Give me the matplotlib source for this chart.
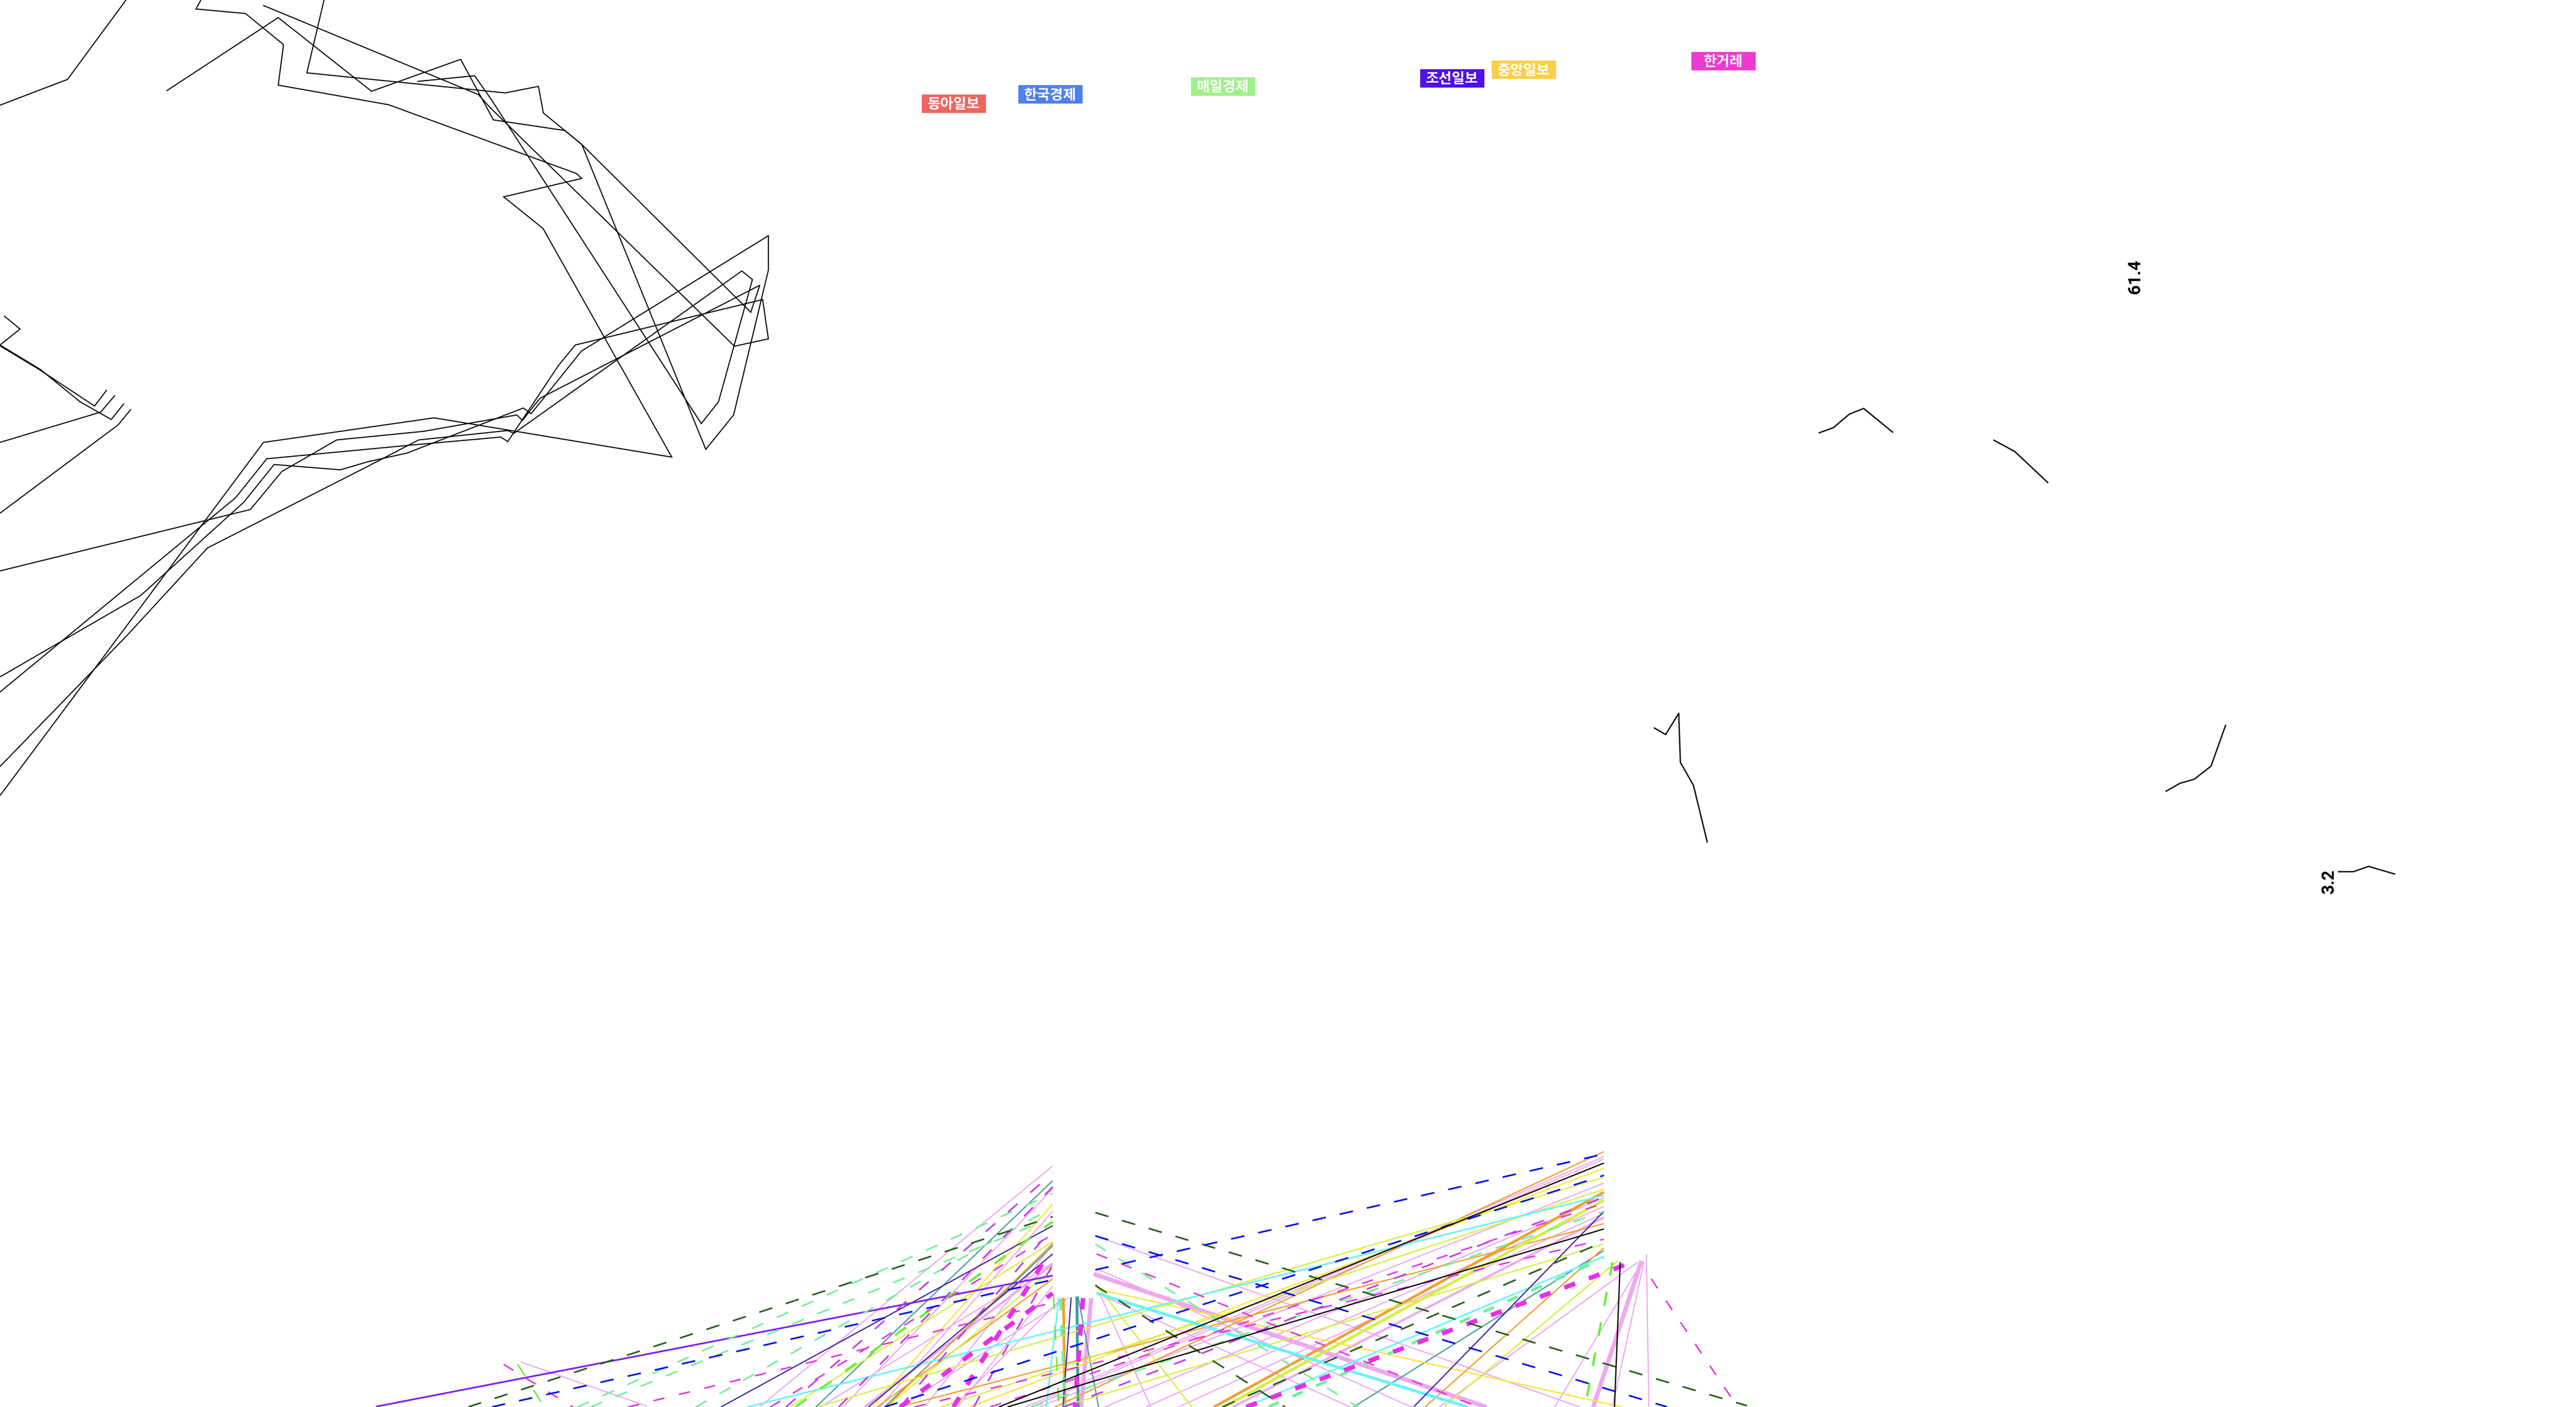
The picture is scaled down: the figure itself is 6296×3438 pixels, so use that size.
import matplotlib
matplotlib.use("Agg")
import matplotlib.pyplot as plt
from matplotlib.patches import Rectangle

plt.rcParams['lines.scale_dashes'] = False
plt.rcParams['lines.solid_capstyle'] = 'butt'
plt.rcParams['lines.dash_capstyle'] = 'butt'

W, H = 6296, 3438

# newspaper labels
papers = ['동아일보', '한국경제', '매일경제', '조선일보', '중앙일보', '한거레']
paper_colors = ['#EF6660', '#4E80EE', '#9EF088', '#5010E8', '#F8D048', '#EE3ACE']
paper_x = [2331, 2567, 2989, 3549, 3724, 4212]
paper_y = [254, 231, 212, 192, 171, 150]

# value labels
value_text = ['61.4', '3.2']
value_x = [5218, 5692]
value_y = [676, 2154]

# black outline paths, upper left
outline_paths = [
    [(308, 0), (165, 194), (0, 257)],
    [(491, 0), (479, 22), (600, 33), (693, 109), (680, 208), (950, 256), (1409, 424),
     (1422, 436), (1231, 481), (1327, 558), (1642, 1117), (1061, 1021), (644, 1081), (0, 1944)],
    [(407, 222), (680, 43), (908, 223), (1126, 145), (1206, 293), (1381, 319), (1422, 353),
     (1835, 763), (1857, 697), (1320, 973), (1277, 1027), (1263, 1014), (1035, 1054),
     (823, 1075), (689, 1152), (612, 1245), (0, 1395)],
    [(792, 0), (750, 178), (1235, 227), (1316, 211), (1328, 276), (1422, 353), (1725, 1098),
     (1793, 1014), (1878, 660), (1878, 576), (1421, 858), (1298, 1011), (1279, 997),
     (995, 1107), (900, 1128), (832, 1148), (670, 1135), (596, 1227), (344, 1455), (0, 1654)],
    [(643, 13), (1169, 231), (1200, 265), (1795, 846), (1878, 828), (1864, 732), (1406, 843),
     (1365, 893), (1241, 1079), (1224, 1068), (1000, 1088), (652, 1121), (576, 1216), (0, 1691)],
    [(1020, 199), (1160, 185), (1200, 242), (1714, 1035), (1756, 982), (1839, 683), (1813, 662),
     (1256, 1059), (1241, 1052), (1023, 1075), (900, 1139), (507, 1339), (313, 1550), (0, 1873)],
    [(10, 772), (49, 804), (0, 843)],
    [(0, 843), (99, 903), (196, 982), (272, 1025), (303, 986)],
    [(0, 845), (96, 903), (231, 992), (261, 953)],
    [(0, 1081), (246, 1007), (281, 966)],
    [(0, 1254), (289, 1038), (320, 1000)],
]

# black fragments, right side
fragment_paths = [
    [(4445, 1058), (4481, 1045), (4520, 1012), (4555, 998), (4627, 1057)],
    [(4872, 1075), (4924, 1103), (5006, 1180)],
    [(4042, 1778), (4071, 1795), (4103, 1743), (4107, 1863), (4139, 1919), (4173, 2059)],
    [(5293, 1934), (5328, 1914), (5363, 1904), (5404, 1872), (5440, 1771)],
    [(5714, 2130), (5752, 2130), (5789, 2117), (5854, 2136)],
]

# coloured segments at the bottom (x0, y0, x1, y1)
pink_thin = [
    (1273, 3328, 1581, 3436), (1856, 3438, 2573, 2849), (2005, 3438, 2573, 3086),
    (2150, 3438, 2573, 2960), (2260, 3438, 2573, 3040), (2340, 3438, 2573, 3142),
    (2330, 3438, 2595, 3172), (2200, 3438, 2610, 3172), (2060, 3438, 2573, 2905),
    (2507, 3438, 3920, 2826), (2520, 3438, 3920, 2832), (2540, 3438, 3920, 2891),
    (2700, 3438, 3920, 2927), (2800, 3438, 3920, 2948), (2880, 3438, 3920, 2965),
    (2677, 3020, 3861, 3438), (2680, 3160, 3300, 3438), (2690, 3166, 2813, 3438),
    (2680, 3100, 3450, 3438),
    (4024, 3065, 4030, 3438), (4018, 3084, 3941, 3438), (4014, 3082, 3800, 3438),
    (4003, 3084, 3518, 3438),
]
pink_thick = [(2113, 3438, 2573, 3089), (3013, 3438, 3920, 2975)]
pink_heavy = [(2673, 3113, 3633, 3438), (4012, 3081, 3894, 3438), (2667, 3172, 2642, 3438)]
magenta_dash = [
    (1535, 3438, 2557, 3187), (1883, 3438, 2573, 3016), (1231, 3334, 1400, 3438),
    (2680, 3064, 3612, 3438), (2235, 3438, 3920, 3028), (4036, 3125, 4247, 3438),
    (2420, 3438, 3920, 2940),
]
magenta_heavy_dash = [(2200, 3438, 2573, 3160), (3046, 3438, 3995, 3082),
                      (2647, 3172, 2627, 3438), (2330, 3438, 2565, 3060)]
violet_dash = [(1921, 3438, 2573, 2866), (2050, 3438, 2573, 2900),
               (2200, 3438, 2573, 3000), (2380, 3438, 2573, 3090),
               (2600, 3438, 3920, 2925)]
purple = [(919, 3437, 2573, 3117)]
dark_purple = [(1762, 3438, 2573, 2995), (2122, 3438, 2573, 3064),
               (3455, 3438, 3920, 2960), (2618, 3170, 2598, 3438)]
teal = [(1994, 3438, 2573, 2885), (2162, 3438, 2573, 3044),
        (3308, 3438, 3920, 3056), (2635, 3168, 2685, 3438)]
teal_thick = [(2632, 3168, 2635, 3438)]
yellow = [(2132, 3438, 2573, 2942), (2369, 3438, 3920, 2855), (2683, 3150, 3964, 3438)]
orange = [(2166, 3438, 2573, 3038), (2144, 3438, 2573, 3125), (2578, 3438, 3920, 2814),
          (2197, 3438, 3920, 2990), (3483, 3438, 3920, 3049)]
orange_thick = [(2967, 3438, 3920, 2913), (2599, 3171, 2603, 3438)]
lime = [(1931, 3438, 2573, 3034), (2167, 3438, 2573, 3101), (1997, 3438, 3920, 2877),
        (2300, 3438, 3920, 2906), (2593, 3438, 3920, 3040), (2677, 3136, 2913, 3438),
        (3954, 3081, 3529, 3438)]
lime_thick = [(2990, 3438, 3920, 2933)]
cyan = [(3044, 3438, 3920, 3070), (2588, 3170, 2557, 3438), (1827, 3438, 3920, 2921)]
cyan_thick = [(2680, 3160, 3587, 3438)]
mint_dash = [(1443, 3438, 2557, 2981), (1412, 3438, 2573, 2916), (2677, 3040, 3319, 3438),
             (1700, 3438, 2573, 2950), (2520, 3438, 3920, 2960)]
mint_heavy_dash = [(2592, 3174, 2603, 3438), (3100, 3438, 3920, 3075)]
green_dash = [(1265, 3333, 1330, 3438), (2575, 3166, 2588, 3438)]
green_heavy_dash = [(1944, 3438, 2573, 2985), (3941, 3084, 3874, 3438)]
olive_dash = [(1144, 3438, 2573, 2973), (2677, 2963, 4270, 3435),
              (2677, 3141, 3141, 3438), (2987, 3438, 3920, 3034)]
blue_dash = [(1202, 3438, 2573, 3127), (2677, 3103, 3920, 2820),
             (2677, 3020, 4075, 3438), (2162, 3438, 3920, 2872)]
black_seg = [(2441, 3438, 3920, 2842), (2462, 3438, 3920, 3003), (3960, 3084, 3946, 3438)]

# style per group: colour, width (pt), dash pattern
groups = [
    (pink_thin, '#EEA8F0', 2.1, None),
    (pink_thick, '#EEA8F0', 4.0, None),
    (pink_heavy, '#EEA8F0', 7.5, None),
    (teal, '#45999A', 2.1, None),
    (teal_thick, '#45999A', 5.0, None),
    (yellow, '#FFE040', 2.3, None),
    (orange, '#F0A030', 2.3, None),
    (orange_thick, '#F0A030', 4.8, None),
    (lime, '#D4F040', 2.3, None),
    (lime_thick, '#D4F040', 4.8, None),
    (cyan, '#68F2FF', 2.8, None),
    (cyan_thick, '#68F2FF', 5.2, None),
    (dark_purple, '#44229E', 2.1, None),
    (purple, '#8020F0', 3.0, None),
    (mint_dash, '#70F098', 2.8, (22, 26)),
    (mint_heavy_dash, '#70F098', 5.0, (20, 26)),
    (green_dash, '#68EE38', 2.6, (24, 30)),
    (green_heavy_dash, '#68EE38', 4.0, (24, 30)),
    (magenta_dash, '#E830E8', 2.6, (20, 26)),
    (violet_dash, '#C038F0', 2.8, (22, 30)),
    (magenta_heavy_dash, '#E830E8', 8.0, (20, 26)),
    (olive_dash, '#2A601C', 2.9, (24, 25)),
    (blue_dash, '#0010F0', 2.9, (24, 25)),
    (black_seg, '#140A0A', 2.3, None),
]

fig = plt.figure(figsize=(W / 100, H / 100), dpi=100)
ax = fig.add_axes([0, 0, 1, 1])
ax.set_xlim(0, W)
ax.set_ylim(H, 0)
ax.axis('off')

for path in outline_paths:
    xs, ys = zip(*path)
    ax.plot(xs, ys, color='black', lw=1.9, solid_joinstyle='miter')

for path in fragment_paths:
    xs, ys = zip(*path)
    ax.plot(xs, ys, color='#140A0A', lw=2.4)

for segs, color, lw, dash in groups:
    for x0, y0, x1, y1 in segs:
        line, = ax.plot([x0, x1], [y0, y1], color=color, lw=lw)
        if dash is not None:
            line.set_dashes(dash)

# label boxes
box_w, box_h = 157, 45
for name, col, cx, cy in zip(papers, paper_colors, paper_x, paper_y):
    ax.add_patch(Rectangle((cx - box_w / 2, cy - box_h / 2), box_w, box_h,
                           facecolor=col, edgecolor='none'))
    ax.text(cx, cy + 1, name, color='white', fontsize=25, fontweight='black',
            ha='center', va='center', family=['Noto Sans CJK KR', 'DejaVu Sans'])

for t, x, y in zip(value_text, value_x, value_y):
    ax.text(x, y, t, rotation=90, fontsize=30, fontweight='bold',
            ha='center', va='center', family=['Roboto', 'DejaVu Sans'])

fig.savefig('out.png', dpi=100, facecolor='white')
